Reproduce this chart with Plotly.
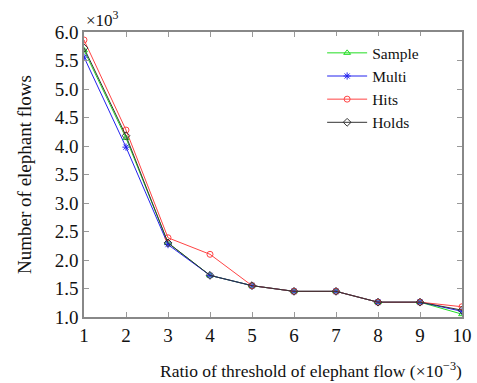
import plotly.graph_objects as go

x = [1, 2, 3, 4, 5, 6, 7, 8, 9, 10]
sample = [5.68, 4.14, 2.30, 1.73, 1.55, 1.45, 1.45, 1.26, 1.26, 1.05]
multi = [5.56, 3.98, 2.27, 1.73, 1.55, 1.45, 1.45, 1.26, 1.26, 1.10]
hits = [5.86, 4.28, 2.39, 2.10, 1.55, 1.45, 1.45, 1.26, 1.26, 1.18]
holds = [5.72, 4.18, 2.30, 1.73, 1.55, 1.45, 1.45, 1.26, 1.26, 1.12]

font = "Liberation Serif"
fig = go.Figure()
series = [
    ("Sample", sample, "#22dd22", "triangle-up-open"),
    ("Multi", multi, "#2222ee", "asterisk-open"),
    ("Hits", hits, "#ff4444", "circle-open"),
    ("Holds", holds, "#333333", "diamond-open"),
]
for name, ys, col, sym in series:
    fig.add_trace(go.Scatter(
        x=x, y=ys, name=name, mode="lines+markers",
        line=dict(color=col, width=1),
        marker=dict(symbol=sym, size=6, color=col, line=dict(color=col, width=1)),
    ))

fig.update_layout(
    width=477, height=383,
    margin=dict(l=84, r=15, t=32, b=66),
    paper_bgcolor="white", plot_bgcolor="white",
    font=dict(family=font, size=18, color="#111"),
    showlegend=True,
    legend=dict(x=0.63, y=0.985, xanchor="left", yanchor="top",
                bgcolor="white", borderwidth=0, font=dict(family=font, size=15.5),
                tracegroupgap=0, itemwidth=40),
    xaxis=dict(range=[1, 10], tickvals=x, ticks="inside", ticklen=5,
               tickcolor="#999", showline=True, linecolor="#888", linewidth=1.5,
               mirror="ticks", showgrid=False, zeroline=False, automargin=False,
               tickfont=dict(family=font, size=19)),
    yaxis=dict(range=[1, 6], dtick=0.5, tickformat=".1f", ticks="inside", ticklen=5,
               tickcolor="#999", showline=True, linecolor="#888", linewidth=1.5,
               mirror="ticks", showgrid=False, zeroline=False, automargin=False,
               tickfont=dict(family=font, size=19),
               title=dict(text="Number of elephant flows", font=dict(family=font, size=19), standoff=18)),
)
fig.add_annotation(text="Ratio of threshold of elephant flow (×10<sup>−3</sup>)",
                   xref="paper", yref="paper", x=0.6, y=0, yshift=-40,
                   xanchor="center", yanchor="top", showarrow=False,
                   font=dict(size=17.5, family=font))
fig.add_annotation(text="×10<sup>3</sup>", xref="paper", yref="paper", x=0.0, y=1.0,
                   xanchor="left", yanchor="bottom", showarrow=False,
                   font=dict(size=17, family=font), yshift=0)
fig.write_html("out.html")
